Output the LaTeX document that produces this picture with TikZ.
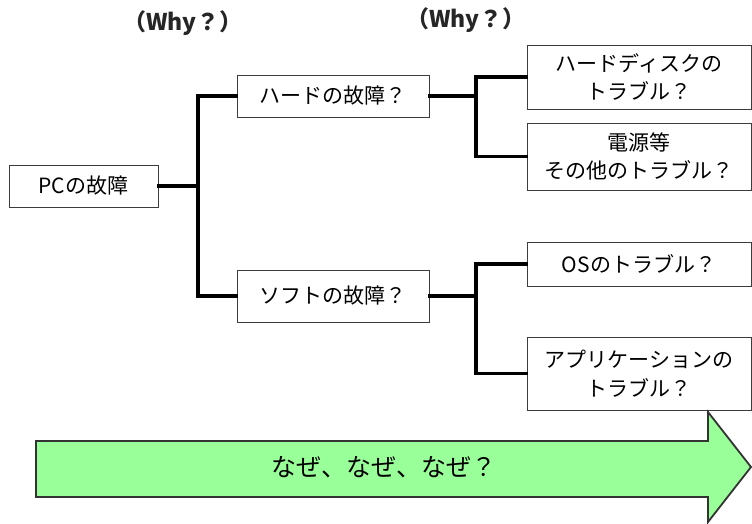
\documentclass[tikz,border=0pt]{standalone}
\usepackage{fontspec}
\setmainfont{Noto Sans CJK JP}
\definecolor{arrowgreen}{RGB}{153,255,153}
\definecolor{boxline}{RGB}{60,60,60}
\begin{document}
\begin{tikzpicture}[x=1pt,y=-1pt,
  box/.style={draw=boxline,line width=1pt,fill=white,rectangle,inner sep=0pt,
    align=center,font=\fontsize{21}{28.5}\selectfont},
  conn/.style={line width=3.2pt,black,line cap=rect},
  why/.style={font=\fontsize{23}{27}\selectfont\bfseries,text=black!85}]
\useasboundingbox (0,0) rectangle (752,523);
\fill[white] (0,0) rectangle (752,523);

\node[why] (w1) at (183,23) {（Why？）};
\node[why] (w2) at (466,20) {（Why？）};

\node[box,minimum width=149pt,minimum height=42pt] (pc) at (83.5,186) {PCの故障};
\node[box,minimum width=192pt,minimum height=42pt] (hard) at (333,96) {ハードの故障？};
\node[box,minimum width=192pt,minimum height=52pt] (soft) at (333,296) {ソフトの故障？};
\node[box,minimum width=224pt,minimum height=64pt] (hdd) at (639,77) {ハードディスクの\\トラブル？};
\node[box,minimum width=224pt,minimum height=67pt] (pow) at (639,156.5) {電源等\\その他のトラブル？};
\node[box,minimum width=224pt,minimum height=44pt] (os) at (639,264) {OSのトラブル？};
\node[box,minimum width=224pt,minimum height=73pt] (app) at (639,373.5) {アプリケーションの\\トラブル？};

\coordinate (t1) at (198,186);
\coordinate (t2) at (476,96);
\coordinate (t3) at (476,296);

\draw[conn] (pc.east) -- (t1);
\draw[conn] (hard.west) -| (t1) |- (soft.west);
\draw[conn] (hard.east) -- (t2);
\draw[conn] (hdd.west) -| (t2) |- (pow.west);
\draw[conn] (soft.east) -- (t3);
\draw[conn] (os.west) -| (t3) |- (app.west);

\draw[draw=black!80,line width=1.8pt,fill=arrowgreen,line join=miter]
  (36,441) -- (708,441) -- (708,412) -- (751,467) -- (708,522) -- (708,497) -- (36,497) -- cycle;
\node[font=\fontsize{25}{29}\selectfont] (nz) at (384,467) {なぜ、なぜ、なぜ？};
\end{tikzpicture}
\end{document}
